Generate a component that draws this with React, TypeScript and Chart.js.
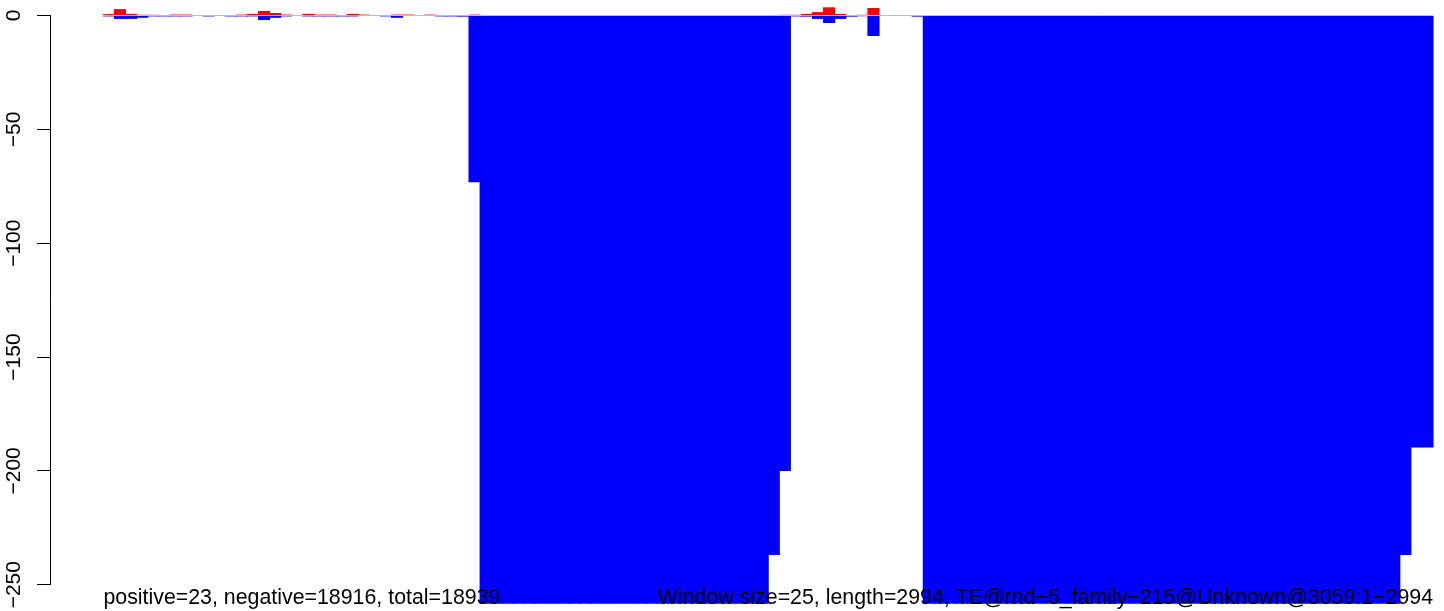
import React, { useEffect, useRef } from "react";
import { Chart, registerables } from "chart.js";

Chart.register(...registerables);

// One value per 25-bp window (120 windows over 2994 bp)
const POSITIVE = [
  0.6, 2.8, 0.7, 0.3, 0.3, 0, 0.4, 0.4, 0, 0,
  0, 0, 0.4, 0.7, 2.0, 1.1, 0.4, 0, 0.7, 0.4,
  0.4, 0, 0.7, 0.4, 0, 0, 0.4, 0.4, 0, 0.4,
  0, 0, 0, 0.4, 0, 0, 0, 0, 0, 0,
  0, 0, 0, 0, 0, 0, 0, 0, 0, 0,
  0, 0, 0, 0, 0, 0, 0, 0, 0, 0,
  0, 0.3, 0.3, 0.7, 1.5, 3.6, 0.7, 0, 0.3, 3.3,
  0, 0, 0, 0, 0, 0, 0, 0, 0, 0,
  0, 0, 0, 0, 0, 0, 0, 0, 0, 0,
  0, 0, 0, 0, 0, 0, 0, 0, 0, 0,
  0, 0, 0, 0, 0, 0, 0, 0, 0, 0,
  0, 0, 0, 0, 0, 0, 0, 0, 0, 0,
];

const NEGATIVE = [
  -0.4, -1.5, -1.5, -1.0, -0.4, -0.4, -0.4, -0.4, 0, -0.4,
  0, -0.4, -0.4, -0.4, -2.0, -1.0, -0.4, 0, -0.4, -0.4,
  -0.4, -0.4, -0.4, 0, 0, -0.4, -1.0, 0, 0, 0,
  -0.4, -0.4, -0.5, -73.2, -258.4, -258.4, -258.4, -258.4, -258.4, -258.4,
  -258.4, -258.4, -258.4, -258.4, -258.4, -258.4, -258.4, -258.4, -258.4, -258.4,
  -258.4, -258.4, -258.4, -258.4, -258.4, -258.4, -258.4, -258.4, -258.4, -258.4,
  -236.9, -200.1, -0.4, -0.5, -1.5, -3.3, -1.5, -0.5, -0.3, -9.0,
  0, 0, 0, -0.5, -258.4, -258.4, -258.4, -258.4, -258.4, -258.4,
  -258.4, -258.4, -258.4, -258.4, -258.4, -258.4, -258.4, -258.4, -258.4, -258.4,
  -258.4, -258.4, -258.4, -258.4, -258.4, -258.4, -258.4, -258.4, -258.4, -258.4,
  -258.4, -258.4, -258.4, -258.4, -258.4, -258.4, -258.4, -258.4, -258.4, -258.4,
  -258.4, -258.4, -258.4, -258.4, -258.4, -258.4, -258.4, -236.9, -189.7, -189.7,
];

// baseline (window units: 0 .. 120)
const BASELINE_X = [0, 120];
const BASELINE_Y = [0, 0];

const Y_TICKS = [-250, -200, -150, -100, -50, 0];
const X_RANGE = [-4.73, 120.99];
const Y_RANGE = [-261.55, 6.81];

const SUMMARY_LEFT = "positive=23, negative=18916, total=18939";
const SUMMARY_RIGHT =
  "Window size=25, length=2994, TE@rnd\u22125_family\u2212215@Unknown@3059:1\u22122994";

const FONT_FAMILY = '"Liberation Sans", Arial, Helvetica, sans-serif';

export default function App() {
  const canvasRef = useRef<HTMLCanvasElement | null>(null);

  useEffect(() => {
    const canvas = canvasRef.current;
    if (!canvas) return;

    const overlay = {
      id: "overlay",
      afterDraw(chart: any) {
        const { ctx, scales } = chart;
        const x = scales.x;
        const y = scales.y;
        ctx.save();
        ctx.strokeStyle = "#000000";
        ctx.lineWidth = 1;
        const ax = Math.round(chart.chartArea.left) - 0.5;
        ctx.beginPath();
        ctx.moveTo(ax, y.getPixelForValue(Y_TICKS[Y_TICKS.length - 1]));
        ctx.lineTo(ax, y.getPixelForValue(Y_TICKS[0]));
        ctx.stroke();

        ctx.font = `21.35px ${FONT_FAMILY}`;
        ctx.fillStyle = "#000000";
        ctx.textBaseline = "alphabetic";
        ctx.textAlign = "left";
        const ty = 604;
        ctx.fillText(SUMMARY_LEFT, x.getPixelForValue(BASELINE_X[0]), ty);
        ctx.textAlign = "right";
        ctx.fillText(SUMMARY_RIGHT, x.getPixelForValue(BASELINE_X[1]), ty);
        ctx.restore();
      },
    };

    const chart = new Chart(canvas, {
      type: "bar",
      data: {
        datasets: [
          {
            type: "line",
            label: "baseline",
            data: BASELINE_X.map((v, i) => ({ x: v, y: BASELINE_Y[i] })),
            borderColor: "#BEBEBE",
            borderWidth: 1,
            pointRadius: 0,
            fill: false,
            order: 10,
          } as any,
          {
            label: "positive",
            data: POSITIVE.map((v, i) => ({ x: i + 0.5, y: v })),
            backgroundColor: "#FF0000",
            borderWidth: 0,
            grouped: false,
            barPercentage: 1.1,
            categoryPercentage: 1,
            inflateAmount: 0,
            order: 1,
          },
          {
            label: "negative",
            data: NEGATIVE.map((v, i) => ({ x: i + 0.5, y: v })),
            backgroundColor: "#0000FF",
            borderWidth: 0,
            grouped: false,
            barPercentage: 1.1,
            categoryPercentage: 1,
            inflateAmount: 0,
            order: 2,
          },
        ],
      },
      options: {
        animation: false,
        responsive: false,
        devicePixelRatio: 1,
        layout: { padding: 0 },
        plugins: {
          legend: { display: false },
          tooltip: { enabled: false },
        },
        scales: {
          x: {
            type: "linear",
            min: X_RANGE[0],
            max: X_RANGE[1],
            offset: false,
            display: false,
          },
          y: {
            type: "linear",
            min: Y_RANGE[0],
            max: Y_RANGE[1],
            afterBuildTicks: (scale: any) => {
              scale.ticks = Y_TICKS.map((v) => ({ value: v }));
            },
            afterFit: (scale: any) => {
              scale.width = 51;
              scale.paddingTop = 0;
              scale.paddingBottom = 0;
            },
            border: { display: false },
            grid: {
              display: true,
              drawOnChartArea: false,
              drawTicks: true,
              tickLength: 14,
              color: "#000000",
              lineWidth: 1,
            },
            ticks: {
              minRotation: 90,
              maxRotation: 90,
              crossAlign: "center",
              padding: -1,
              color: "#000000",
              font: { family: FONT_FAMILY, size: 21 },
              callback: (v: any) =>
                Number(v) < 0 ? "\u2212" + Math.abs(Number(v)) : String(v),
            },
          },
        },
      },
      plugins: [overlay],
    } as any);

    return () => chart.destroy();
  }, []);

  return (
    <div style={{ position: "fixed", left: 0, top: 0, width: 1444, height: 611, background: "#ffffff" }}>
      <canvas ref={canvasRef} width={1444} height={611} style={{ display: "block" }} />
    </div>
  );
}
